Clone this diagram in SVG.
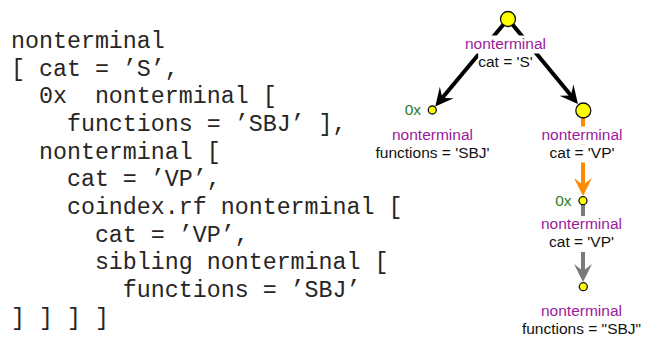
<svg xmlns="http://www.w3.org/2000/svg" width="650" height="340" viewBox="0 0 650 340">
  <style>
    .code { font-family: "Liberation Mono", "Courier New", monospace; font-size: 23.3px; fill: #262626; white-space: pre; }
    .lbl { font-family: "Liberation Sans", Arial, sans-serif; font-size: 15.5px; text-anchor: middle; }
    .kind { fill: #9a1a9a; }
    .attr { fill: #111; }
    .idx { font-family: "Liberation Sans", Arial, sans-serif; font-size: 15.5px; fill: #2a7d2a; text-anchor: end; }
    .bg { fill: #fff; }
    .node { fill: #ffff00; stroke: #111; stroke-width: 1.3; }
    .edge { stroke-width: 4; fill: none; }
  </style>
  <defs>
    <marker id="head-black" markerUnits="userSpaceOnUse" orient="auto" viewBox="-13 -10 20 20" markerWidth="20" markerHeight="20" refX="0" refY="0">
      <path d="M6,0 L-12,-9 L-5,0 L-12,9 Z" fill="#000"/>
    </marker>
    <marker id="head-orange" markerUnits="userSpaceOnUse" orient="auto" viewBox="-13 -10 20 20" markerWidth="20" markerHeight="20" refX="0" refY="0">
      <path d="M6,0 L-12,-9 L-5,0 L-12,9 Z" fill="#ff8c00"/>
    </marker>
    <marker id="head-gray" markerUnits="userSpaceOnUse" orient="auto" viewBox="-13 -10 20 20" markerWidth="20" markerHeight="20" refX="0" refY="0">
      <path d="M6,0 L-12,-9 L-5,0 L-12,9 Z" fill="#7a7a7a"/>
    </marker>
  </defs>

  <rect width="650" height="340" fill="#fff"/>

  <!-- textual form of the structure -->
  <g id="source-text" xml:space="preserve">
    <text class="code" x="11" y="47.8">nonterminal</text>
    <text class="code" x="11" y="75.5">[ cat = ’S’,</text>
    <text class="code" x="11" y="103.2">  0x  nonterminal [</text>
    <text class="code" x="11" y="130.9">    functions = ’SBJ’ ],</text>
    <text class="code" x="11" y="158.6">  nonterminal [</text>
    <text class="code" x="11" y="186.3">    cat = ’VP’,</text>
    <text class="code" x="11" y="214">    coindex.rf nonterminal [</text>
    <text class="code" x="11" y="241.7">      cat = ’VP’,</text>
    <text class="code" x="11" y="269.4">      sibling nonterminal [</text>
    <text class="code" x="11" y="297.1">        functions = ’SBJ’</text>
    <text class="code" x="11" y="324.8">] ] ] ]</text>
  </g>

  <!-- connectors -->
  <g id="connectors">
    <path class="edge" d="M508,19 L439.1,101.8" stroke="#000" marker-end="url(#head-black)"/>
    <path class="edge" d="M508,19 L574.1,99.3" stroke="#000" marker-end="url(#head-black)"/>
    <path class="edge" d="M583,111 L583,190" stroke="#ff8c00" marker-end="url(#head-orange)"/>
    <path class="edge" d="M583,201 L583,276" stroke="#7a7a7a" marker-end="url(#head-gray)"/>
  </g>

  <!-- nodes -->
  <g id="node-root">
    <circle class="node" cx="508" cy="19" r="7.5"/>
    <rect class="bg" x="465" y="35.5" width="81" height="18"/>
    <rect class="bg" x="478.2" y="53" width="54.6" height="18"/>
    <text class="lbl kind" x="505.5" y="49">nonterminal</text>
    <text class="lbl attr" x="505.5" y="66.5">cat = 'S'</text>
  </g>

  <g id="node-sbj">
    <circle class="node" cx="432.3" cy="110" r="4"/>
    <text class="idx" x="421" y="115">0x</text>
    <rect class="bg" x="392" y="126" width="81" height="18"/>
    <rect class="bg" x="375.5" y="144" width="114" height="18"/>
    <text class="lbl kind" x="432.5" y="139.5">nonterminal</text>
    <text class="lbl attr" x="432.5" y="157.5">functions = 'SBJ'</text>
  </g>

  <g id="node-vp">
    <circle class="node" cx="583.3" cy="110.5" r="7.5"/>
    <rect class="bg" x="541.5" y="126.5" width="81" height="18"/>
    <rect class="bg" x="549.5" y="144.5" width="65" height="18"/>
    <text class="lbl kind" x="582" y="140">nonterminal</text>
    <text class="lbl attr" x="582" y="158">cat = 'VP'</text>
  </g>

  <g id="node-vp-coindex">
    <circle class="node" cx="583" cy="200.7" r="4"/>
    <text class="idx" x="571.5" y="206">0x</text>
    <rect class="bg" x="541" y="216" width="81" height="18"/>
    <rect class="bg" x="549" y="234" width="65" height="18"/>
    <text class="lbl kind" x="581.5" y="229">nonterminal</text>
    <text class="lbl attr" x="581.5" y="247">cat = 'VP'</text>
  </g>

  <g id="node-sibling">
    <circle class="node" cx="583.3" cy="286.7" r="4"/>
    <rect class="bg" x="541" y="303" width="81" height="18"/>
    <rect class="bg" x="522" y="320.5" width="119" height="18"/>
    <text class="lbl kind" x="581.5" y="316">nonterminal</text>
    <text class="lbl attr" x="581.5" y="333.5">functions = "SBJ"</text>
  </g>
</svg>
